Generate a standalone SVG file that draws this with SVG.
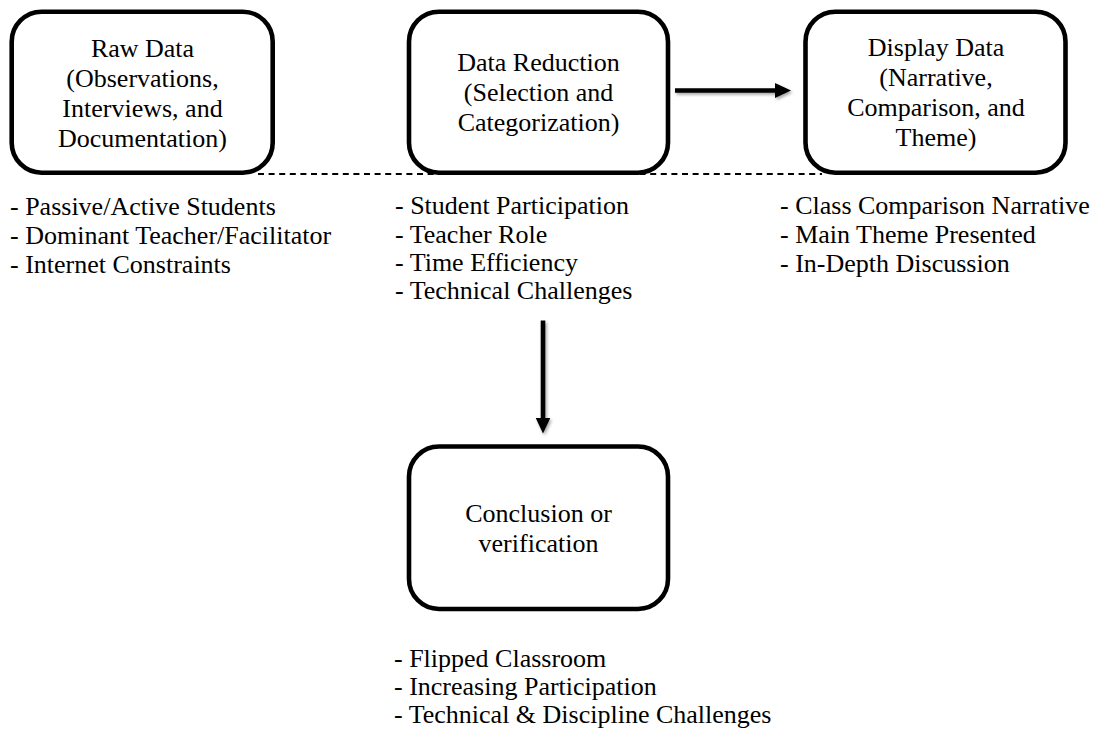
<svg xmlns="http://www.w3.org/2000/svg" width="1107" height="734" viewBox="0 0 1107 734">
<style>
  .box { fill: #ffffff; stroke: #000000; stroke-width: 4.6; }
  .t { font-family: "Liberation Serif", "Times New Roman", serif; font-size: 26px; fill: #000000; }
  .c { text-anchor: middle; }
  .arrow { fill: none; stroke: #000000; stroke-width: 4.6; }
  .dash { fill: none; stroke: #000000; stroke-width: 2; stroke-dasharray: 6 4.6; }
</style>
<defs>
  <marker id="head" markerUnits="userSpaceOnUse" markerWidth="17" markerHeight="16" refX="1" refY="7.5" orient="auto">
    <path d="M0,0 L16,7.5 L0,15 z" fill="#000000"/>
  </marker>
  <filter id="shadow" filterUnits="userSpaceOnUse" x="0" y="0" width="1107" height="734">
    <feDropShadow dx="1.5" dy="2" stdDeviation="1.5" flood-color="#000000" flood-opacity="0.35"/>
  </filter>
</defs>
<rect width="1107" height="734" fill="#ffffff"/>
<g id="connectors">
  <line class="dash" x1="258" y1="174" x2="822" y2="174"/>
  <g filter="url(#shadow)">
    <path class="arrow" d="M675,90.5 L776,90.5" marker-end="url(#head)"/>
    <path class="arrow" d="M543,320.5 L543,418.5" marker-end="url(#head)"/>
  </g>
</g>
<g id="raw-data">
  <rect class="box" x="11.7" y="11.7" width="261" height="161" rx="30"/>
  <text class="t c" x="142.5" y="57">Raw Data</text>
  <text class="t c" x="142.5" y="87">(Observations,</text>
  <text class="t c" x="142.5" y="117">Interviews, and</text>
  <text class="t c" x="142.5" y="147">Documentation)</text>
</g>
<g id="data-reduction">
  <rect class="box" x="409" y="11.7" width="259" height="161" rx="30"/>
  <text class="t c" x="538.5" y="71">Data Reduction</text>
  <text class="t c" x="538.5" y="101">(Selection and</text>
  <text class="t c" x="538.5" y="131">Categorization)</text>
</g>
<g id="display-data">
  <rect class="box" x="805.5" y="11.7" width="260" height="161" rx="30"/>
  <text class="t c" x="936" y="56">Display Data</text>
  <text class="t c" x="936" y="86">(Narrative,</text>
  <text class="t c" x="936" y="116">Comparison, and</text>
  <text class="t c" x="936" y="146">Theme)</text>
</g>
<g id="conclusion">
  <rect class="box" x="409" y="446.5" width="259" height="162.5" rx="30"/>
  <text class="t c" x="538.5" y="522">Conclusion or</text>
  <text class="t c" x="538.5" y="552">verification</text>
</g>
<g id="raw-data-items">
  <text class="t" x="10" y="215">- Passive/Active Students</text>
  <text class="t" x="10" y="244">- Dominant Teacher/Facilitator</text>
  <text class="t" x="10" y="273">- Internet Constraints</text>
</g>
<g id="data-reduction-items">
  <text class="t" x="395" y="214">- Student Participation</text>
  <text class="t" x="395" y="243">- Teacher Role</text>
  <text class="t" x="395" y="271">- Time Efficiency</text>
  <text class="t" x="395" y="299">- Technical Challenges</text>
</g>
<g id="display-data-items">
  <text class="t" x="780" y="214">- Class Comparison Narrative</text>
  <text class="t" x="780" y="243">- Main Theme Presented</text>
  <text class="t" x="780" y="272">- In-Depth Discussion</text>
</g>
<g id="conclusion-items">
  <text class="t" x="394" y="667">- Flipped Classroom</text>
  <text class="t" x="394" y="695">- Increasing Participation</text>
  <text class="t" x="394" y="723">- Technical &amp; Discipline Challenges</text>
</g>
</svg>
